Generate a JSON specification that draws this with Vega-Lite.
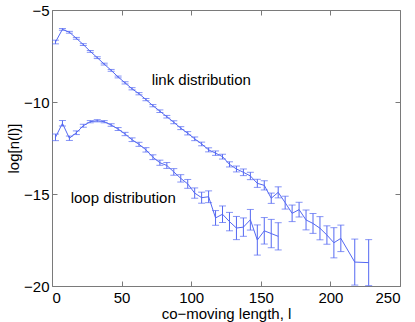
{
  "$schema": "https://vega.github.io/schema/vega-lite/v6.json",
  "width": 348,
  "height": 276,
  "autosize": {"type": "none"},
  "padding": {"left": 52, "top": 10, "right": 15, "bottom": 36},
  "background": "white",
  "config": {
    "font": "Liberation Sans",
    "view": {"stroke": "#7a7a7a", "strokeWidth": 1},
    "axis": {
      "domain": false,
      "offset": -5,
      "tickColor": "#7a7a7a",
      "tickSize": 5,
      "tickWidth": 1,
      "labelFontSize": 15,
      "labelColor": "black",
      "titleFontSize": 15,
      "titleFontWeight": "normal",
      "titleColor": "black",
      "grid": false
    }
  },
  "datasets": {
    "series": [
      {"s": "link", "x": 2.5, "y": -6.74, "e": 0.1},
      {"s": "link", "x": 7.5, "y": -6.05, "e": 0.05},
      {"s": "link", "x": 12.5, "y": -6.21, "e": 0.05},
      {"s": "link", "x": 17.5, "y": -6.54, "e": 0.05},
      {"s": "link", "x": 22.5, "y": -6.88, "e": 0.05},
      {"s": "link", "x": 27.5, "y": -7.25, "e": 0.05},
      {"s": "link", "x": 32.5, "y": -7.59, "e": 0.05},
      {"s": "link", "x": 37.5, "y": -7.94, "e": 0.05},
      {"s": "link", "x": 42.5, "y": -8.28, "e": 0.05},
      {"s": "link", "x": 47.5, "y": -8.64, "e": 0.05},
      {"s": "link", "x": 52.5, "y": -8.96, "e": 0.06},
      {"s": "link", "x": 57.5, "y": -9.28, "e": 0.06},
      {"s": "link", "x": 62.5, "y": -9.55, "e": 0.06},
      {"s": "link", "x": 67.5, "y": -9.87, "e": 0.06},
      {"s": "link", "x": 72.5, "y": -10.2, "e": 0.06},
      {"s": "link", "x": 77.5, "y": -10.5, "e": 0.07},
      {"s": "link", "x": 82.5, "y": -10.8, "e": 0.07},
      {"s": "link", "x": 87.5, "y": -11.1, "e": 0.08},
      {"s": "link", "x": 92.5, "y": -11.42, "e": 0.08},
      {"s": "link", "x": 97.5, "y": -11.7, "e": 0.09},
      {"s": "link", "x": 102.5, "y": -12.0, "e": 0.1},
      {"s": "link", "x": 107.5, "y": -12.28, "e": 0.1},
      {"s": "link", "x": 112.5, "y": -12.6, "e": 0.11},
      {"s": "link", "x": 117.5, "y": -12.78, "e": 0.12},
      {"s": "link", "x": 122.5, "y": -12.97, "e": 0.13},
      {"s": "link", "x": 127.5, "y": -13.39, "e": 0.14},
      {"s": "link", "x": 132.5, "y": -13.64, "e": 0.16},
      {"s": "link", "x": 137.5, "y": -13.82, "e": 0.18},
      {"s": "link", "x": 142.5, "y": -14.02, "e": 0.2},
      {"s": "link", "x": 147.5, "y": -14.42, "e": 0.22},
      {"s": "link", "x": 152.5, "y": -14.53, "e": 0.25},
      {"s": "link", "x": 157.5, "y": -15.23, "e": 0.28},
      {"s": "link", "x": 162.5, "y": -14.91, "e": 0.3},
      {"s": "link", "x": 167.5, "y": -15.47, "e": 0.35},
      {"s": "link", "x": 172.5, "y": -16.05, "e": 0.45},
      {"s": "link", "x": 177.5, "y": -15.85, "e": 0.4},
      {"s": "link", "x": 182.5, "y": -16.41, "e": 0.54},
      {"s": "link", "x": 187.5, "y": -16.6, "e": 0.54},
      {"s": "link", "x": 192.5, "y": -16.86, "e": 0.63},
      {"s": "link", "x": 197.5, "y": -17.23, "e": 0.5},
      {"s": "link", "x": 202.5, "y": -17.65, "e": 0.82},
      {"s": "link", "x": 207.5, "y": -17.41, "e": 0.72},
      {"s": "link", "x": 217.5, "y": -18.7, "e": 1.25},
      {"s": "link", "x": 227.5, "y": -18.73, "e": 1.25},
      {"s": "loop", "x": 2.5, "y": -11.92, "e": 0.18},
      {"s": "loop", "x": 7.5, "y": -11.16, "e": 0.15},
      {"s": "loop", "x": 12.5, "y": -11.97, "e": 0.12},
      {"s": "loop", "x": 17.5, "y": -11.67, "e": 0.1},
      {"s": "loop", "x": 22.5, "y": -11.29, "e": 0.08},
      {"s": "loop", "x": 27.5, "y": -11.07, "e": 0.06},
      {"s": "loop", "x": 32.5, "y": -11.02, "e": 0.06},
      {"s": "loop", "x": 37.5, "y": -11.07, "e": 0.06},
      {"s": "loop", "x": 42.5, "y": -11.25, "e": 0.07},
      {"s": "loop", "x": 47.5, "y": -11.47, "e": 0.08},
      {"s": "loop", "x": 52.5, "y": -11.74, "e": 0.09},
      {"s": "loop", "x": 57.5, "y": -12.05, "e": 0.1},
      {"s": "loop", "x": 62.5, "y": -12.3, "e": 0.11},
      {"s": "loop", "x": 67.5, "y": -12.6, "e": 0.12},
      {"s": "loop", "x": 72.5, "y": -13.0, "e": 0.13},
      {"s": "loop", "x": 77.5, "y": -13.3, "e": 0.14},
      {"s": "loop", "x": 82.5, "y": -13.45, "e": 0.16},
      {"s": "loop", "x": 87.5, "y": -13.8, "e": 0.18},
      {"s": "loop", "x": 92.5, "y": -14.15, "e": 0.2},
      {"s": "loop", "x": 97.5, "y": -14.45, "e": 0.24},
      {"s": "loop", "x": 102.5, "y": -14.95, "e": 0.28},
      {"s": "loop", "x": 107.5, "y": -15.2, "e": 0.3},
      {"s": "loop", "x": 112.5, "y": -15.15, "e": 0.32},
      {"s": "loop", "x": 117.5, "y": -16.3, "e": 0.4},
      {"s": "loop", "x": 122.5, "y": -16.1, "e": 0.45},
      {"s": "loop", "x": 127.5, "y": -16.5, "e": 0.5},
      {"s": "loop", "x": 132.5, "y": -16.85, "e": 0.63},
      {"s": "loop", "x": 137.5, "y": -16.8, "e": 0.5},
      {"s": "loop", "x": 142.5, "y": -16.4, "e": 0.56},
      {"s": "loop", "x": 147.5, "y": -17.5, "e": 0.82},
      {"s": "loop", "x": 152.5, "y": -17.0, "e": 0.72},
      {"s": "loop", "x": 157.5, "y": -17.15, "e": 0.77},
      {"s": "loop", "x": 162.5, "y": -17.3, "e": 0.74}
    ],
    "labels": [
      {"x": 71.6, "y": -8.8, "label": "link distribution"},
      {"x": 13.4, "y": -15.22, "label": "loop distribution"}
    ]
  },
  "layer": [
    {
      "data": {"name": "series"},
      "mark": {"type": "line", "color": "#5468f2", "strokeWidth": 1},
      "encoding": {
        "x": {"field": "x", "type": "quantitative", "scale": {"domain": [0, 250], "nice": false},
              "axis": {"orient": "bottom", "values": [0, 50, 100, 150, 200, 250], "title": "co−moving length, l", "titlePadding": 1, "labelPadding": 4}},
        "y": {"field": "y", "type": "quantitative", "scale": {"domain": [-20, -5], "nice": false, "zero": false},
              "axis": {"orient": "left", "values": [-20, -15, -10, -5], "title": "log[n(l)]", "titlePadding": 2, "labelPadding": 3}},
        "detail": {"field": "s"}
      }
    },
    {
      "data": {"name": "labels"},
      "mark": {"type": "text", "align": "left", "baseline": "middle", "fontSize": 15, "color": "black"},
      "encoding": {
        "x": {"field": "x", "type": "quantitative",
              "axis": {"orient": "top", "labels": false, "title": null, "values": [0, 50, 100, 150, 200, 250]}},
        "y": {"field": "y", "type": "quantitative",
              "axis": {"orient": "right", "labels": false, "title": null, "values": [-20, -15, -10, -5]}},
        "text": {"field": "label"}
      }
    },
    {
      "data": {"name": "series"},
      "mark": {"type": "errorbar", "color": "#5468f2", "ticks": {"size": 7, "thickness": 1}, "rule": {"strokeWidth": 1}},
      "encoding": {
        "x": {"field": "x", "type": "quantitative", "axis": null},
        "y": {"field": "y", "type": "quantitative", "axis": null},
        "yError": {"field": "e"},
        "detail": {"field": "s"}
      }
    }
  ],
  "resolve": {"axis": {"x": "independent", "y": "independent"}}
}
